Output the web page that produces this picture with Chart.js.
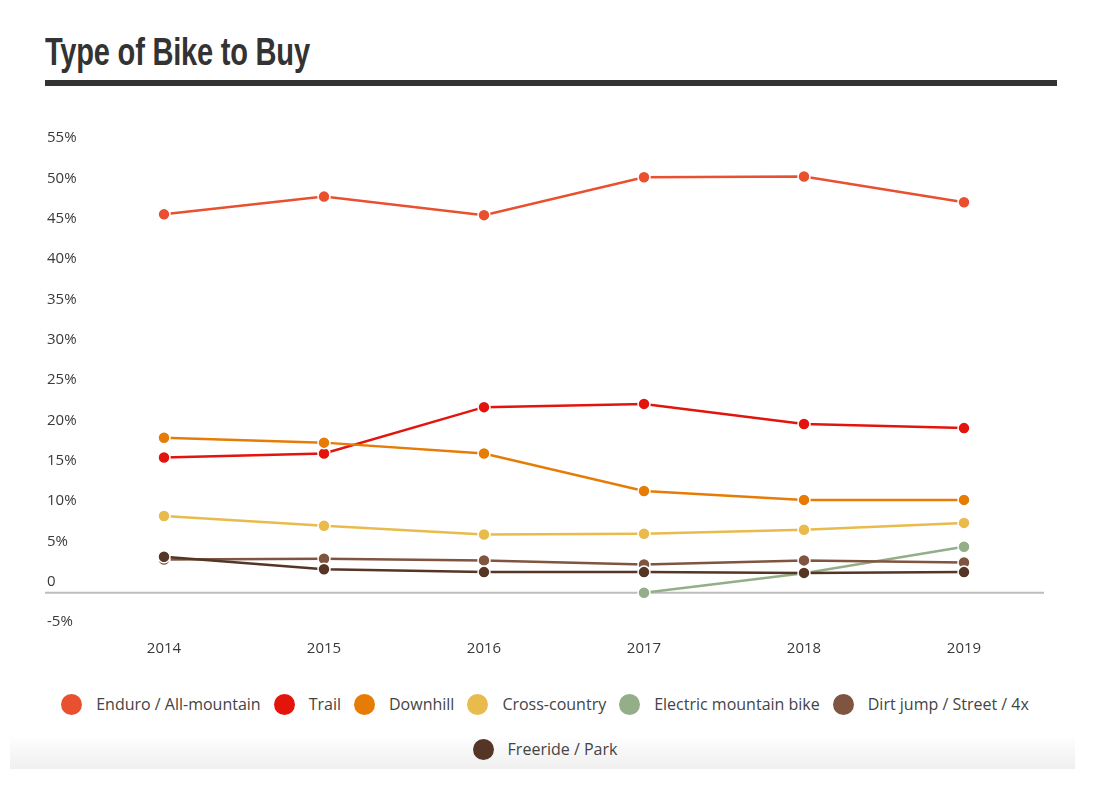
<!DOCTYPE html>
<html>
<head>
<meta charset="utf-8">
<script src="https://cdn.jsdelivr.net/npm/chart.js@4"></script>
<style>
  body { margin: 0; background: #fff; width: 1100px; height: 800px; position: relative; overflow: hidden; font-family: "Open Sans", sans-serif; }
  #title { position: absolute; left: 45px; top: 33px; margin: 0; font: bold 38px/38px "Liberation Sans", sans-serif; letter-spacing: -0.3px; color: #333; transform: scaleX(0.765); transform-origin: left top; white-space: nowrap; }
  #rule { position: absolute; left: 45px; top: 80px; width: 1012px; height: 6px; background: #333; }
  #chart-wrap { position: absolute; left: 40px; top: 100px; width: 1020px; height: 570px; }
  #shade { position: absolute; left: 10px; top: 735px; width: 1065px; height: 34px; background: linear-gradient(#fff, #efefef); }
  #legend { position: absolute; left: 10px; top: 693px; width: 1070px; display: flex; flex-wrap: wrap; justify-content: center; column-gap: 13px; row-gap: 23px; list-style: none; margin: 0; padding: 0; }
  #legend li { display: flex; align-items: center; height: 22px; font-size: 16px; color: #444; }
  #legend .dot { width: 21px; height: 21px; border-radius: 50%; margin-right: 14px; }
</style>
</head>
<body>
<h1 id="title">Type of Bike to Buy</h1>
<div id="rule"></div>
<div id="chart-wrap"><canvas id="bike-chart"></canvas></div>
<div id="shade"></div>
<ul id="legend"></ul>
<script>
const years = ["2014", "2015", "2016", "2017", "2018", "2019"];
const yTicks = [-5, 0, 5, 10, 15, 20, 25, 30, 35, 40, 45, 50, 55];

const seriesNames = [
  "Enduro / All-mountain",
  "Trail",
  "Downhill",
  "Cross-country",
  "Electric mountain bike",
  "Dirt jump / Street / 4x",
  "Freeride / Park",
];
const seriesColors = ["#e8502f", "#e3140c", "#e67c06", "#e8bb4c", "#93ae88", "#7f5440", "#553526"];

const enduro = [46.9, 49.1, 46.8, 51.5, 51.6, 48.4];
const trail = [16.75, 17.25, 23.0, 23.4, 20.9, 20.4];
const downhill = [19.2, 18.6, 17.25, 12.6, 11.5, 11.5];
const crossCountry = [9.5, 8.3, 7.2, 7.3, 7.8, 8.65];
const electric = [null, null, null, 0, 2.4, 5.7];
const dirtJump = [4.1, 4.2, 4.0, 3.5, 4.0, 3.75];
const freeride = [4.45, 2.9, 2.55, 2.55, 2.45, 2.55];

const seriesValues = [enduro, trail, downhill, crossCountry, electric, dirtJump, freeride];

const datasets = seriesNames.map((name, i) => ({
  label: name,
  data: seriesValues[i],
  borderColor: seriesColors[i],
  backgroundColor: seriesColors[i],
  borderWidth: 2.5,
  pointRadius: 6,
  pointHoverRadius: 6,
  pointBorderColor: "#fff",
  pointBorderWidth: 1.5,
  tension: 0,
  spanGaps: false,
  order: seriesNames.length - i,
}));

// grey line at zero, drawn from under the y labels to the right edge
const zeroLine = {
  id: "zeroLine",
  beforeDatasetsDraw(chart) {
    const { ctx, chartArea, scales } = chart;
    const y = scales.y.getPixelForValue(0);
    ctx.save();
    ctx.strokeStyle = "#bdbdbd";
    ctx.lineWidth = 2;
    ctx.beginPath();
    ctx.moveTo(5, y);
    ctx.lineTo(chartArea.right, y);
    ctx.stroke();
    ctx.restore();
  },
};

const context = document.querySelector("#bike-chart").getContext("2d");
new Chart(context, {
  type: "line",
  data: { labels: years, datasets },
  options: {
    responsive: true,
    maintainAspectRatio: false,
    animation: false,
    layout: { padding: { left: 7, top: 49, right: 16, bottom: 7 } },
    plugins: {
      legend: { display: false },
      tooltip: { enabled: false },
    },
    scales: {
      x: {
        offset: true,
        grid: { display: false, drawTicks: false },
        border: { display: false },
        ticks: { color: "#3a3a3a", font: { family: "Open Sans", size: 15 }, padding: 7 },
        afterFit: (scale) => { scale.height = 30; },
      },
      y: {
        min: -5,
        max: 55,
        grid: { display: false, drawTicks: false },
        border: { display: false },
        afterBuildTicks: (scale) => { scale.ticks = yTicks.map((v) => ({ value: v })); },
        afterFit: (scale) => { scale.width = 37; },
        ticks: {
          crossAlign: "far",
          labelOffset: -11,
          color: "#3a3a3a",
          font: { family: "Open Sans", size: 15 },
          callback: (v) => (v === 0 ? "0" : v + "%"),
        },
      },
    },
  },
  plugins: [zeroLine],
});

const legend = document.querySelector("#legend");
datasets.forEach((ds) => {
  legend.insertAdjacentHTML(
    "beforeend",
    `<li><span class="dot" style="background:${ds.borderColor}"></span>${ds.label}</li>`
  );
});
</script>
</body>
</html>
